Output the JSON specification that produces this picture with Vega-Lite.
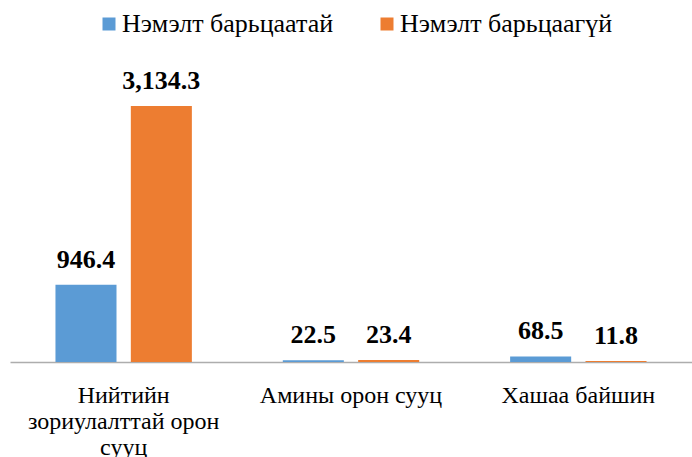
{
  "$schema": "https://vega.github.io/schema/vega-lite/v6.json",
  "width": 682,
  "height": 294,
  "autosize": "none",
  "padding": {"left": 10, "right": 0, "top": 68, "bottom": 95},
  "background": "white",
  "config": {"view": {"stroke": null}, "font": "Liberation Serif"},
  "data": {
    "values": [
      {"category": "Нийтийн зориулалттай орон сууц", "series": "Нэмэлт барьцаатай", "value": 946.4},
      {"category": "Нийтийн зориулалттай орон сууц", "series": "Нэмэлт барьцаагүй", "value": 3134.3},
      {"category": "Амины орон сууц", "series": "Нэмэлт барьцаатай", "value": 22.5},
      {"category": "Амины орон сууц", "series": "Нэмэлт барьцаагүй", "value": 23.4},
      {"category": "Хашаа байшин", "series": "Нэмэлт барьцаатай", "value": 68.5},
      {"category": "Хашаа байшин", "series": "Нэмэлт барьцаагүй", "value": 11.8}
    ]
  },
  "encoding": {
    "x": {
      "field": "category",
      "type": "nominal",
      "sort": ["Нийтийн зориулалттай орон сууц", "Амины орон сууц", "Хашаа байшин"],
      "scale": {"paddingInner": 0.4, "paddingOuter": 0.2},
      "axis": {
        "title": null,
        "labelAngle": 0,
        "ticks": false,
        "tickSize": 0,
        "domainColor": "#ADADAD",
        "domainWidth": 1.5,
        "labelFont": "Liberation Serif",
        "labelFontSize": 24,
        "labelColor": "#000000",
        "labelBaseline": "alphabetic",
        "labelPadding": 40,
        "labelLineHeight": 26,
        "labelLimit": 0,
        "labelExpr": "datum.label == 'Нийтийн зориулалттай орон сууц' ? ['Нийтийн', 'зориулалттай орон', 'сууц'] : datum.label"
      }
    },
    "xOffset": {
      "field": "series",
      "type": "nominal",
      "sort": ["Нэмэлт барьцаатай", "Нэмэлт барьцаагүй"],
      "scale": {"paddingInner": 0.19, "paddingOuter": 0}
    },
    "y": {
      "field": "value",
      "type": "quantitative",
      "scale": {"domain": [0, 3600], "nice": false},
      "axis": null
    }
  },
  "layer": [
    {
      "mark": {"type": "bar"},
      "encoding": {
        "color": {
          "field": "series",
          "type": "nominal",
          "sort": ["Нэмэлт барьцаатай", "Нэмэлт барьцаагүй"],
          "scale": {"domain": ["Нэмэлт барьцаатай", "Нэмэлт барьцаагүй"], "range": ["#5B9BD5", "#ED7D31"]},
          "legend": {
            "title": null,
            "orient": "none",
            "direction": "horizontal",
            "legendX": 86,
            "legendY": -57,
            "symbolType": "square",
            "symbolSize": 169,
            "symbolStrokeWidth": 0,
            "labelFont": "Liberation Serif",
            "labelFontSize": 26,
            "labelColor": "#000000",
            "labelOffset": 0,
            "columnPadding": 40,
            "labelLimit": 0
          }
        }
      }
    },
    {
      "mark": {"type": "text", "font": "Liberation Serif", "fontSize": 26, "fontWeight": "bold", "baseline": "alphabetic", "dy": -17, "color": "#000000"},
      "encoding": {
        "text": {"field": "value", "type": "quantitative", "format": ",.1f"}
      }
    }
  ]
}
